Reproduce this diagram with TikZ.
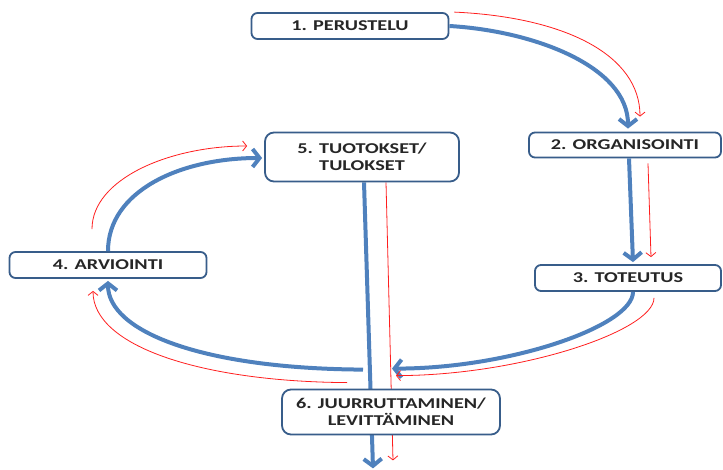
\documentclass[tikz,border=0pt]{standalone}
\usepackage{fontspec}
\setmainfont[FakeStretch=1.35]{Carlito}
\usepackage{xcolor}
\usetikzlibrary{arrows.meta,positioning,calc,backgrounds}
\definecolor{boxblue}{RGB}{56,93,138}
\definecolor{flowblue}{RGB}{79,129,189}
\definecolor{flowred}{RGB}{255,30,30}

\begin{document}
\begin{tikzpicture}[x=1pt, y=-1pt,
    stage/.style={draw=boxblue, line width=1.8pt, rounded corners=6pt, fill=white,
        text=black!85, font=\bfseries\fontsize{15}{17}\selectfont, align=center, inner sep=0pt},
    flow/.style={flowblue, line width=4pt, -{Straight Barb[length=7pt,width=18pt,line width=4pt]}},
    trace/.style={flowred, line width=0.8pt, -{Straight Barb[length=4pt,width=10pt]}}]
    \useasboundingbox (0,0) rectangle (723,470);

    \node[stage, minimum width=197pt, minimum height=26pt] (perustelu) at (350,26) {1. PERUSTELU};
    \node[stage, minimum width=192pt, minimum height=25pt] (organisointi) at (625,145) {2. ORGANISOINTI};
    \node[stage, minimum width=186pt, minimum height=26pt] (toteutus) at (628,278) {3. TOTEUTUS};
    \node[stage, minimum width=197pt, minimum height=26pt] (arviointi) at (108,265) {4. ARVIOINTI};
    \node[stage, minimum width=194pt, minimum height=49pt, rounded corners=9pt] (tuotokset) at (362,157) {5. TUOTOKSET/\\TULOKSET};
    \node[stage, minimum width=218pt, minimum height=45pt, rounded corners=9pt] (juurruttaminen) at (391,412) {6. JUURRUTTAMINEN/\\LEVITTÄMINEN};

    % 1 -> 2 -> 3
    \draw[flow] (perustelu.east) .. controls +(85,5) and +(0,-62) .. ($(organisointi.north)+(3,-3)$);
    \draw[trace] ($(perustelu.north east)+(5,0)$) .. controls +(110,5) and +(0,-62) .. ($(organisointi.north)+(15,-15)$);
    \draw[flow] ($(organisointi.south)+(4,0)$) -- ($(toteutus.north)+(5,-2)$);
    \draw[trace] ($(organisointi.south)+(23,5)$) -- ($(toteutus.north)+(23,-7)$);

    % 3 -> 6 -> 4 -> 5
    \draw[flow] ($(toteutus.south)+(5,0)$) .. controls +(0,34) and +(118,0) .. ($(juurruttaminen.north)+(1,-20)$);
    \draw[trace] ($(toteutus.south)+(26,6)$) .. controls +(0,33) and +(124,0) .. ($(juurruttaminen.north)+(5,-13)$);
    \draw[flow] ($(juurruttaminen.north)+(-28,-19)$) .. controls +(-163,-1) and +(0,50) .. ($(arviointi.south)+(0,2)$);
    \draw[trace] ($(juurruttaminen.north)+(-44,-6)$) .. controls +(-147,-1) and +(0,55) .. ($(arviointi.south)+(-15,12)$);
    \draw[flow] (arviointi.north) .. controls +(0,-60) and +(-82,0) .. ($(tuotokset.west)+(-2,1)$);
    \draw[trace] ($(arviointi.north)+(-16,-22)$) .. controls +(0,-50) and +(-78,0) .. ($(tuotokset.west)+(-17,-11)$);

    % 5 -> 6 -> out
    \begin{pgfonlayer}{background}
        \draw[flow] ($(tuotokset.south)+(2,0)$) -- ($(juurruttaminen.south)+(-18,33)$);
        \draw[trace] ($(tuotokset.south)+(24,0)$) -- ($(juurruttaminen.south)+(2,25)$);
    \end{pgfonlayer}
\end{tikzpicture}
\end{document}
